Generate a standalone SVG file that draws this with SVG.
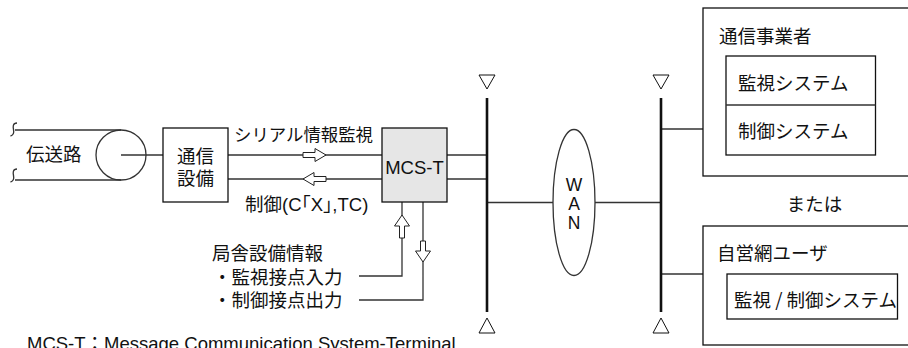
<svg xmlns="http://www.w3.org/2000/svg" width="908" height="348" viewBox="0 0 908 348">
<style>
.bx{fill:#fff;stroke:#111;stroke-width:1.3}
.gr{fill:#e6e6e6;stroke:#111;stroke-width:1.3}
.ln{fill:none;stroke:#333;stroke-width:1.3}
.bus{fill:none;stroke:#111;stroke-width:2.6}
.tri{fill:#fff;stroke:#111;stroke-width:1}
.ha{fill:#fff;stroke:#222;stroke-width:1}
.j{font-family:"Noto Sans CJK JP","Noto Sans",sans-serif;font-size:18.5px;fill:#111}
.l{font-family:"Liberation Sans","Noto Sans CJK JP",sans-serif;font-size:18.5px;fill:#111}
.mid{text-anchor:middle}
</style>
<rect width="908" height="348" fill="#fff"/>

<g id="connectors">
  <path class="ln" d="M15,130 H121 M15,180 H121"/>
  <path class="ln" d="M17,123 C12.5,123 13,127 13.5,129.5 C14,132 14.5,135 10.5,136"/>
  <path class="ln" d="M17,169 C12.5,169 13,173 13.5,175.5 C14,178 14.5,181 10.5,182"/>
  <path class="ln" d="M121,155 H163"/>
  <path class="ln" d="M228,155 H382 M228,179 H382"/>
  <polygon class="ha" points="303,152.5 315,152.5 315,148.5 326,155 315,161.5 315,157.5 303,157.5"/>
  <polygon class="ha" points="326,176.5 314,176.5 314,172.5 303,179 314,185.5 314,181.5 326,181.5"/>
  <path class="ln" d="M402,202 V276 H359 M423,202 V300 H359"/>
  <polygon class="ha" points="399.5,238 399.5,226 394.5,226 402,215 409.5,226 404.5,226 404.5,238"/>
  <polygon class="ha" points="420.5,241 420.5,251 415.5,251 423,262 430.5,251 425.5,251 425.5,241"/>
  <path class="ln" d="M447,155 H487 M447,179 H487"/>
  <path class="ln" d="M487,202.5 H553 M595,202.5 H661"/>
  <path class="ln" d="M661,129 H703 M661,274 H703"/>
</g>

<g id="bus1">
  <path class="bus" d="M487,98 V312"/>
  <polygon class="tri" points="479,75 495,75 487,89"/>
  <polygon class="tri" points="479,333 495,333 487,318"/>
</g>
<g id="bus2">
  <path class="bus" d="M661,98 V312"/>
  <polygon class="tri" points="653,75 669,75 661,89"/>
  <polygon class="tri" points="653,333 669,333 661,318"/>
</g>

<g id="line-circle">
  <circle class="ln" cx="121" cy="155" r="25"/>
  <text class="j" x="26" y="160.5">伝送路</text>
</g>

<g id="comm-equipment">
  <rect class="bx" x="163" y="128" width="65" height="74"/>
  <text class="j mid" x="195.5" y="162.5">通信</text>
  <text class="j mid" x="195.5" y="184.5">設備</text>
</g>

<g id="labels-serial">
  <text class="j" x="234" y="140.5" style="font-size:17.4px">シリアル情報監視</text>
  <text class="l" x="245" y="211" style="font-feature-settings:'halt'">制御(C「X」,TC)</text>
</g>

<g id="mcs-t">
  <rect class="gr" x="382" y="128" width="65" height="74"/>
  <text class="l mid" x="414.5" y="173.5">MCS-T</text>
</g>

<g id="station-info">
  <text class="j" x="212" y="260">局舎設備情報</text>
  <text class="j" x="213" y="283.5">・監視接点入力</text>
  <text class="j" x="213" y="307">・制御接点出力</text>
</g>

<g id="wan">
  <ellipse class="ln" cx="574" cy="202.5" rx="21" ry="73"/>
  <text class="l mid" x="574" y="191" style="font-size:17.5px">W</text>
  <text class="l mid" x="574" y="210" style="font-size:17.5px">A</text>
  <text class="l mid" x="574" y="228.5" style="font-size:17.5px">N</text>
</g>

<g id="carrier">
  <rect class="bx" x="703" y="8" width="230" height="168"/>
  <text class="j" x="719" y="43">通信事業者</text>
  <rect class="bx" x="726" y="56" width="149.5" height="99"/>
  <path class="ln" d="M726,105 H875.5"/>
  <text class="j" x="738" y="89.5">監視システム</text>
  <text class="j" x="738" y="138">制御システム</text>
</g>

<text class="j mid" x="814.5" y="211">または</text>

<g id="private-user">
  <rect class="bx" x="703" y="226" width="230" height="119"/>
  <text class="j" x="717" y="259.5">自営網ユーザ</text>
  <rect class="bx" x="727" y="274" width="170.5" height="45"/>
  <text class="j" x="734" y="307">監視 / 制御システム</text>
</g>

<text class="l" x="27" y="350">MCS-T：Message Communication System-Terminal</text>
</svg>
